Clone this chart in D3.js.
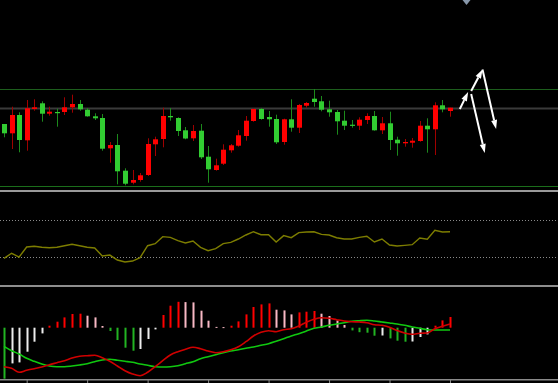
<!DOCTYPE html>
<html><head><meta charset="utf-8">
<script src="https://cdn.jsdelivr.net/npm/d3@7"></script>
<style>html,body{margin:0;padding:0;background:#000;overflow:hidden}</style>
</head><body>
<svg id="chart" width="558" height="383"></svg>
<script>
// ---- data ----
const opens  = [66.0,56.7,75.0,49.7,81.0,86.7,76.3,78.0,78.0,82.7,86.0,80.3,73.7,72.0,41.7,45.0,19.3,7.3,10.0,15.0,45.7,51.0,74.0,72.0,59.7,51.7,59.3,33.3,20.0,26.3,39.7,44.3,54.0,69.0,81.0,73.0,71.0,48.0,70.7,62.3,84.3,91.3,88.7,80.7,78.0,69.3,65.3,64.3,70.0,74.0,59.7,66.7,50.3,46.7,47.3,49.0,64.3,60.7,84.7,79.0];
const highs  = [66.0,83.3,77.7,90.0,90.7,88.7,83.3,81.3,92.7,95.3,90.0,82.0,76.7,76.0,48.0,56.0,21.7,20.0,17.0,51.7,53.3,82.3,82.0,72.7,63.0,65.0,66.0,44.0,31.3,45.7,46.0,60.0,74.0,81.7,82.0,79.0,75.3,71.3,90.7,86.0,88.0,101.0,94.0,89.3,80.0,79.3,70.0,72.7,76.7,79.0,73.0,78.3,53.3,51.0,52.0,69.0,71.7,87.7,90.0,82.3];
const lows   = [52.7,41.0,37.7,39.3,79.3,68.3,74.3,63.3,75.0,77.3,79.3,73.3,70.0,39.3,27.3,5.7,4.7,5.7,8.3,14.0,34.0,42.7,69.3,54.0,50.7,49.0,31.0,7.3,19.3,25.0,37.3,43.3,49.3,68.3,70.3,63.3,46.0,45.3,58.3,57.0,82.3,83.3,78.7,73.3,55.3,60.0,62.3,60.0,66.0,59.3,56.0,40.0,34.3,43.3,42.3,48.3,37.3,35.0,77.7,73.3];
const closes = [56.7,75.0,50.0,81.7,82.7,76.3,78.3,77.3,82.7,86.0,80.7,73.7,71.7,41.3,45.0,18.7,6.3,10.0,14.7,46.0,50.7,74.0,72.7,59.0,51.5,59.0,32.7,20.7,24.7,40.3,44.7,54.7,69.3,81.0,71.0,70.7,47.7,70.7,62.3,85.0,87.0,88.0,80.3,77.7,68.7,64.3,64.3,70.3,74.0,59.7,66.7,50.0,46.7,48.0,49.3,64.3,60.7,84.7,80.7,82.3];
const priceLevels = [101.0, 82.5, 4.0];

const rsi = [28.6,34.0,30.0,40.7,41.5,40.4,40.0,40.4,42.1,43.6,42.1,40.4,39.7,31.1,32.1,26.8,24.6,25.7,29.3,42.1,44.3,51.8,51.1,47.5,45.0,47.2,40.4,36.8,38.9,44.3,45.7,49.3,53.6,57.1,53.9,53.9,46.1,52.9,50.7,56.1,56.8,57.1,54.3,53.6,50.7,49.3,49.3,51.1,52.2,46.1,49.3,42.9,41.8,42.5,43.2,50.4,49.0,58.6,56.8,57.1];
const rsiLevels = [70, 30];

const macdMain   = [-39.0,-40.6,-44.6,-42.6,-41.0,-39.3,-37.0,-35.0,-33.0,-30.3,-28.6,-28.0,-27.6,-30.0,-33.6,-38.3,-43.0,-46.3,-48.0,-44.6,-39.0,-33.0,-27.3,-24.0,-21.6,-19.6,-21.0,-23.3,-25.0,-24.0,-22.0,-19.0,-14.0,-8.3,-4.6,-3.0,-4.0,-2.0,-1.0,1.7,5.4,8.4,10.0,9.4,8.0,6.7,6.0,5.7,5.0,3.0,2.4,0.4,-2.9,-5.3,-6.6,-5.6,-5.3,-1.0,1.4,3.7];
const macdSignal = [-18.6,-23.0,-26.3,-30.6,-33.6,-36.3,-38.3,-39.0,-39.0,-38.3,-37.3,-36.0,-34.0,-32.3,-31.6,-32.6,-33.6,-34.6,-36.3,-37.6,-39.0,-39.3,-39.0,-38.0,-36.0,-34.0,-31.0,-29.0,-27.0,-25.0,-23.3,-22.0,-20.6,-19.3,-17.6,-16.0,-13.6,-11.0,-8.3,-6.0,-3.3,-0.6,0.7,2.4,3.7,5.0,6.4,7.0,7.4,6.7,5.7,4.7,3.7,2.4,0.7,-0.6,-2.0,-2.3,-2.3,-2.3];
const macdHist   = [-51.0,-35.7,-34.7,-24.0,-14.0,-5.7,2.0,6.0,10.3,13.7,14.0,12.0,10.3,1.7,-3.3,-12.3,-20.0,-23.0,-21.3,-11.3,-1.7,12.7,22.0,25.9,25.6,25.3,17.0,7.0,0.8,0.6,2.0,6.3,13.3,20.7,23.3,24.3,18.0,17.3,13.3,15.3,16.0,16.7,14.0,11.7,7.3,2.7,-2.7,-4.5,-5.0,-8.0,-7.8,-10.7,-13.0,-14.0,-13.8,-9.3,-6.7,2.0,7.3,10.7];

const timeTicks = [3, 11, 19, 27, 35, 43, 51, 59];
// annotation arrows in data space: [fromIndex, fromPrice, toIndex, toPrice]
const arrows = [[60.3,81,61.4,98],[61.8,99,63.3,120.5],[63.3,120.5,65.1,61],[61.8,96,63.6,37]];

// ---- drawing ----
const W = 558, H = 383;
const svg = d3.select('#chart');
svg.append('rect').attr('width', W).attr('height', H).attr('fill', '#000');

const n = closes.length;
const x = d3.scaleLinear().domain([0, n - 1]).range([4, 450]);
const yP = d3.scaleLinear().domain([0, 190]).range([190, 0]);
const yR = d3.scaleLinear().domain([0, 100]).range([285, 191.7]);
const yM = d3.scaleLinear().domain([-51.3, 40.7]).range([379, 287]);

// price panel levels
const levelColors = ['#1d5e1d', '#3a3a3a', '#1b6e1b'];
const levelWidths = [1, 2, 1];
svg.append('g').selectAll('line').data(priceLevels).join('line')
  .attr('x1', 0).attr('x2', W)
  .attr('y1', d => Math.round(yP(d)) + 0.5).attr('y2', d => Math.round(yP(d)) + 0.5)
  .attr('stroke', (d, i) => levelColors[i]).attr('stroke-width', (d, i) => levelWidths[i]);

// candles
const candles = d3.range(n).map(i => ({i, o: opens[i], h: highs[i], l: lows[i], c: closes[i]}));
const cg = svg.append('g');
cg.selectAll('line.wick').data(candles).join('line').attr('class', 'wick')
  .attr('x1', d => Math.round(x(d.i)) + 0.5).attr('x2', d => Math.round(x(d.i)) + 0.5)
  .attr('y1', d => yP(d.h)).attr('y2', d => yP(d.l))
  .attr('stroke', d => d.c > d.o ? '#a00000' : '#1c8a1c').attr('stroke-width', 1);
cg.selectAll('rect.body').data(candles).join('rect').attr('class', 'body')
  .attr('x', d => Math.round(x(d.i)) - 2)
  .attr('width', 5)
  .attr('y', d => yP(Math.max(d.o, d.c)))
  .attr('height', d => Math.max(1.2, Math.abs(yP(d.o) - yP(d.c))))
  .attr('fill', d => d.c > d.o ? '#ff0000' : '#32cd32');

// arrows
const ag = svg.append('g');
arrows.forEach(a => {
  const x1 = x(a[0]), y1 = yP(a[1]), x2 = x(a[2]), y2 = yP(a[3]);
  const ang = Math.atan2(y2 - y1, x2 - x1);
  const L = 9, hw = 3;
  const bx = x2 - L * Math.cos(ang), by = y2 - L * Math.sin(ang);
  ag.append('line').attr('x1', x1).attr('y1', y1).attr('x2', bx).attr('y2', by)
    .attr('stroke', '#fff').attr('stroke-width', 2);
  const px = -Math.sin(ang) * hw, py = Math.cos(ang) * hw;
  ag.append('path')
    .attr('d', `M${x2},${y2}L${bx + px},${by + py}L${bx - px},${by - py}Z`)
    .attr('fill', '#fff');
});

// shift marker at top
svg.append('path').attr('d', 'M462.5,0L470.5,0L466.5,5Z').attr('fill', '#8797aa');

// separators
svg.append('rect').attr('x', 0).attr('y', 190).attr('width', W).attr('height', 2).attr('fill', '#9a9a9a');
svg.append('rect').attr('x', 0).attr('y', 285).attr('width', W).attr('height', 2).attr('fill', '#8e8e8e');
svg.append('rect').attr('x', 0).attr('y', 379).attr('width', W).attr('height', 1.5).attr('fill', '#8a8a8a');

// RSI panel
svg.append('g').selectAll('line').data(rsiLevels).join('line')
  .attr('x1', 0).attr('x2', W)
  .attr('y1', d => Math.round(yR(d)) + 0.5).attr('y2', d => Math.round(yR(d)) + 0.5)
  .attr('stroke', '#8a8a8a').attr('stroke-width', 1).attr('stroke-dasharray', '1,2');
svg.append('path').datum(rsi)
  .attr('d', d3.line().x((d, i) => x(i)).y(d => yR(d)))
  .attr('fill', 'none').attr('stroke', '#7d7d00').attr('stroke-width', 1.4);

// MACD panel
const histColor = (v, i) => {
  if (i === 0) return v >= 0 ? '#ff0000' : '#22b422';
  const p = macdHist[i - 1];
  if (v >= 0) return v >= p ? '#ff0000' : '#f7b8c4';
  return v < p ? '#22b422' : '#ececec';
};
svg.append('g').selectAll('rect').data(macdHist).join('rect')
  .attr('x', (d, i) => Math.round(x(i)) - 0.5)
  .attr('width', 2)
  .attr('y', d => Math.min(yM(0), yM(d)))
  .attr('height', d => Math.max(1, Math.abs(yM(d) - yM(0))))
  .attr('fill', histColor);
const mline = d3.line().x((d, i) => x(i)).y(d => yM(d)).curve(d3.curveMonotoneX);
svg.append('path').datum(macdSignal).attr('d', mline)
  .attr('fill', 'none').attr('stroke', '#10c810').attr('stroke-width', 1.6);
svg.append('path').datum(macdMain).attr('d', mline)
  .attr('fill', 'none').attr('stroke', '#d00000').attr('stroke-width', 1.6);

// time axis ticks
const axis = d3.axisBottom(x).tickValues(timeTicks).tickSize(3).tickFormat('');
const ax = svg.append('g').attr('transform', 'translate(0,380)').call(axis);
ax.select('.domain').remove();
ax.selectAll('line').attr('stroke', '#8a8a8a');
</script>
</body></html>
